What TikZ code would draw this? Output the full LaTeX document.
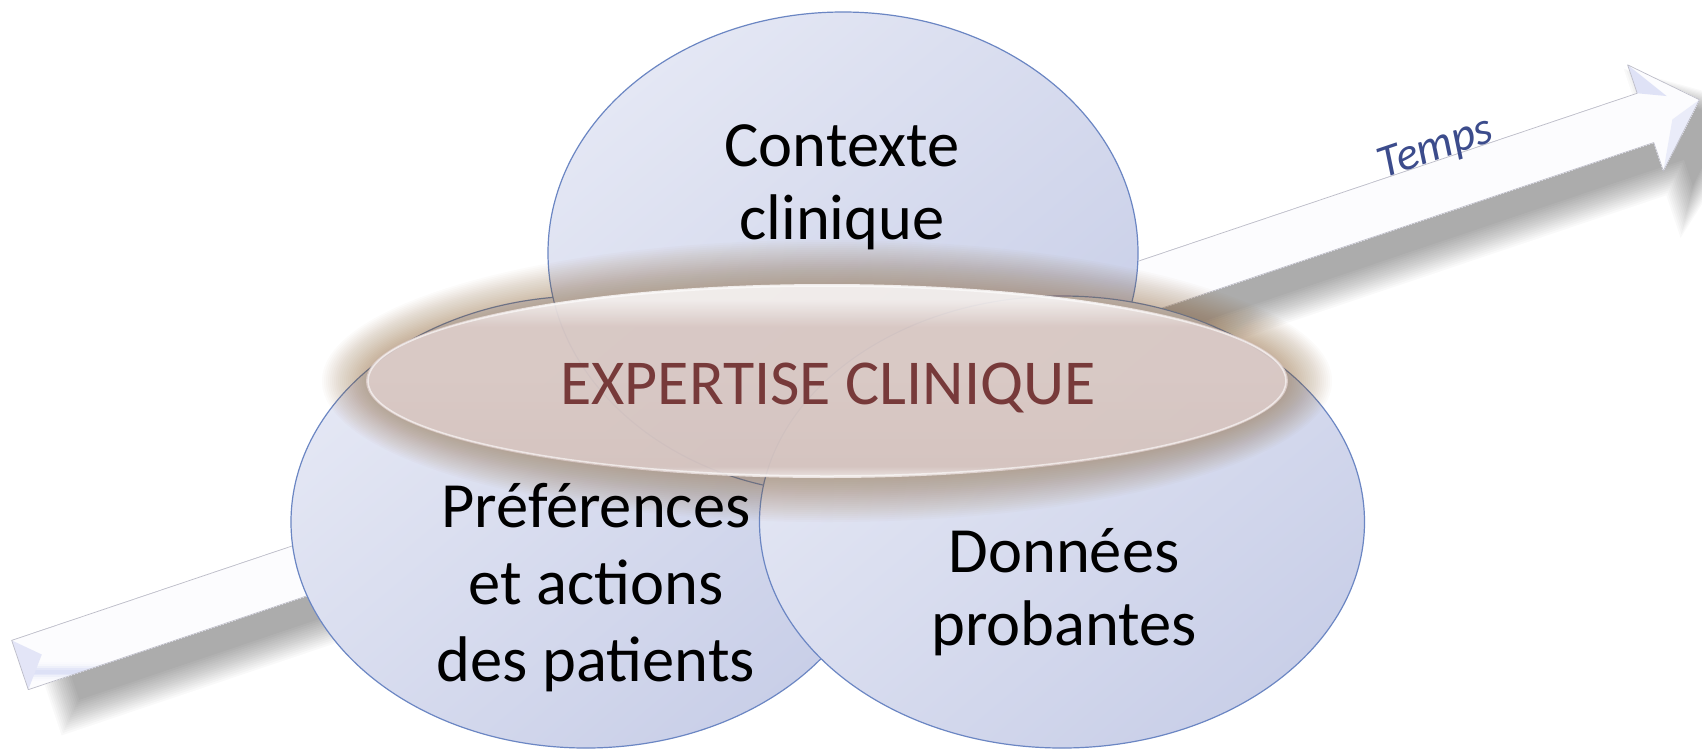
\documentclass[tikz,border=0pt]{standalone}
\usepackage{fontspec}
\setmainfont{Carlito}
\usetikzlibrary{shapes.geometric}

\definecolor{ellLight}{HTML}{E4E7F4}
\definecolor{ellDark}{HTML}{C9CFE8}
\definecolor{ellEdge}{HTML}{6B86C3}
\definecolor{arrLav}{HTML}{B8BFEC}
\definecolor{arrEdge}{HTML}{BDBDC8}
\definecolor{glowBrown}{HTML}{8E602C}
\definecolor{expTop}{HTML}{F7F4F4}
\definecolor{expMid}{HTML}{DDCDCA}
\definecolor{expLow}{HTML}{D9C8C5}
\definecolor{expRim}{HTML}{F2ECEB}
\definecolor{expText}{HTML}{773A3A}
\definecolor{timeText}{HTML}{3C4C8C}

% glossy vertical profile of the central ellipse (path box = 25bp..75bp)
\pgfdeclareverticalshading{expgloss}{100bp}{color(0bp)=(expRim); color(25bp)=(expRim);
  color(28bp)=(expLow); color(52bp)=(expMid); color(64bp)=(expMid);
  color(71bp)=(expTop); color(75bp)=(expTop); color(100bp)=(expTop)}

\begin{document}
\begin{tikzpicture}[x=1pt,y=-1pt,
  areashape/.style={ellipse, draw=ellEdge, line width=1.2pt, inner sep=0pt,
    top color=ellLight, middle color=ellLight, bottom color=ellDark, shading angle=40},
  bigtext/.style={font=\fontsize{64.5}{73}\selectfont, align=center, text=black},
]
\useasboundingbox (0,0) rectangle (1702,748);
\fill[white] (0,0) rectangle (1702,748);

% ---- time arrow (drawn in its own frame: s along the arrow, t across it)
\coordinate (tail) at (20,665);
\coordinate (tip) at (1700,100);
\begin{scope}[shift={(tail)}, x={(0.9478pt,0.3190pt)}, y={(-0.3190pt,0.9478pt)}]
  % soft drop shadow
  \foreach \r in {0,2,...,28} {
    \pgfmathsetmacro{\sa}{45-\r}
    \pgfmathsetmacro{\sb}{1738-\r}
    \pgfmathsetmacro{\ta}{-2+\r}
    \pgfmathsetmacro{\tb}{20+1.2*\r}
    \pgfmathsetmacro{\sc}{1790+1.43*\r}
    \pgfmathsetmacro{\td}{-80-1.6*\r}
    \pgfmathsetmacro{\te}{-52-\r}
    \fill[black, opacity=0.024] (\sa,\ta) -- (\sb,\ta) -- (\sb,\tb) -- (\sc,-28)
      -- (\sb,\td) -- (\sb,\te) -- (\sa,\te) -- cycle;
  }
  % body with a lavender ridge along its length
  \begin{scope}
    \clip (0,26) -- (1715,26) -- (1715,56) -- (1772,0) -- (1715,-56) -- (1715,-26) -- (0,-26) -- cycle;
    \foreach \c in {-57,-55,...,57} {
      \pgfmathsetmacro{\p}{4+45*exp(-((\c+6)/5.5)^2)}
      \fill[arrLav!\p!white] (-2,\c-1.3) rectangle (1780,\c+1.3);
    }
    % bevel facets of the head and of the tail end
    \fill[arrLav!45!white] (1715,56) -- (1715,26) -- (1742,14) -- cycle;
    \fill[arrLav!30!white] (1772,0) -- (1715,-56) -- (1740,-10) -- cycle;
    \fill[arrLav!40!white] (0,26) -- (24,3) -- (0,-26) -- cycle;
  \end{scope}
  \draw[arrEdge, line width=0.7pt, line join=round]
    (0,26) -- (1715,26) -- (1715,56) -- (1772,0) -- (1715,-56) -- (1715,-26) -- (0,-26) -- cycle;
\end{scope}
\node[font=\fontsize{46}{52}\selectfont\itshape, text=timeText, rotate=18.6] (temps) at (1436,149) {Temps};

% ---- the three areas
\node[areashape, minimum width=590, minimum height=452] (pref) at (586,522) {};
\node[areashape, minimum width=590, minimum height=482] (ctx) at (843,253) {};
\node[areashape, minimum width=605, minimum height=452] (data) at (1062,522) {};

% ---- clinical expertise: tan halo, then glossy translucent ellipse
\foreach \r in {2,4,...,44}
  \fill[glowBrown, opacity=0.024] (827,381) ellipse [x radius={461+\r}, y radius={97+\r}];
\node[ellipse, minimum width=922, minimum height=194, inner sep=0pt,
  shading=expgloss, fill opacity=0.9] (expert) at (827,381) {};
\draw[white, opacity=0.6, line width=1.5pt] (827,381) ellipse [x radius=459, y radius=95];

% ---- labels
\node[bigtext] (ctxlabel) at (842,187) {Contexte\\clinique};
\node[bigtext, font=\fontsize{64.5}{77}\selectfont] (preflabel) at (596,588) {Préférences\\et actions\\des patients};
\node[bigtext] (datalabel) at (1064,592) {Données\\probantes};
\node[font=\fontsize{64}{70}\selectfont, text=expText] (explabel) at (828,388) {EXPERTISE CLINIQUE};
\end{tikzpicture}
\end{document}
